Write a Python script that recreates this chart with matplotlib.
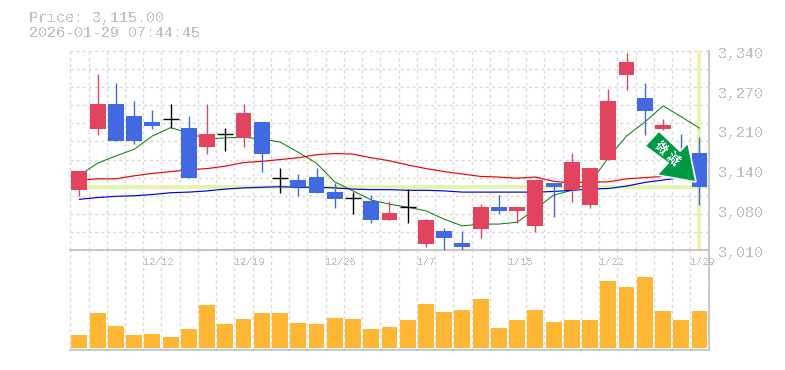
import matplotlib
matplotlib.use('Agg')
import matplotlib.pyplot as plt
import numpy as np
from matplotlib.patches import Polygon

W, H = 785, 370

plt.rcParams['text.antialiased'] = False

# precos (um candle por pregao)
opens = [3109, 3211, 3252, 3232, 3222, 3227, 3212, 3181, 3202, 3196, 3222, 3130, 3126, 3131, 3106, 3096, 3091, 3060, 3081, 3020, 3042, 3022, 3045, 3081, 3075, 3050, 3121, 3109, 3085, 3159, 3300, 3262, 3211, 3168, 3171]
closes = [3141, 3252, 3191, 3191, 3216, 3227, 3130, 3202, 3202, 3237, 3169, 3130, 3114, 3105, 3095, 3096, 3060, 3071, 3081, 3060, 3030, 3015, 3081, 3075, 3081, 3126, 3115, 3156, 3146, 3257, 3322, 3240, 3217, 3134, 3115]
highs = [3141, 3302, 3287, 3257, 3242, 3252, 3232, 3252, 3212, 3252, 3222, 3146, 3136, 3146, 3121, 3106, 3101, 3091, 3111, 3061, 3046, 3042, 3086, 3101, 3081, 3126, 3121, 3171, 3146, 3277, 3337, 3287, 3227, 3202, 3197]
lows = [3100, 3201, 3191, 3186, 3211, 3212, 3130, 3169, 3174, 3181, 3139, 3105, 3100, 3105, 3080, 3070, 3055, 3060, 3055, 3015, 3008, 3009, 3030, 3070, 3055, 3040, 3065, 3090, 3080, 3159, 3275, 3201, 3209, 3130, 3085]

ma_green = [3134, 3154, 3166, 3177, 3199, 3213, 3204, 3194, 3196, 3197, 3194, 3189, 3172, 3154, 3123, 3108, 3093, 3086, 3081, 3075, 3061, 3050, 3053, 3053, 3056, 3078, 3101, 3109, 3121, 3163, 3199, 3222, 3249, 3231, 3212]
ma_red = [3126, 3128, 3128, 3133, 3137, 3140, 3143, 3145, 3149, 3155, 3157, 3160, 3163, 3168, 3170, 3169, 3163, 3158, 3151, 3145, 3140, 3136, 3132, 3131, 3129, 3131, 3124, 3121, 3123, 3123, 3128, 3130, 3132, 3133, 3134]
ma_blue = [3094, 3097, 3099, 3100, 3102, 3105, 3106, 3108, 3111, 3113, 3114, 3115, 3114, 3114, 3113, 3111, 3110, 3110, 3109, 3109, 3108, 3106, 3106, 3106, 3106, 3106, 3107, 3109, 3111, 3112, 3116, 3122, 3126, 3130, 3133]

volumes = [13, 35, 22, 13, 14, 11, 19, 43, 24, 29, 35, 35, 25, 24, 30, 29, 19, 21, 28, 44, 36, 38, 49, 20, 28, 38, 26, 28, 28, 67, 61, 71, 37, 28, 37]

date_pos = [4, 9, 14, 19, 24, 29, 34]
date_labels = ['12/12', '12/19', '12/26', '1/7', '1/15', '1/22', '1/29']
price_labels = ['3,010', '3,080', '3,140', '3,210', '3,270', '3,340']
last_price = 3115

RED = '#e2445f'
BLUE = '#4169e1'
ORANGE = '#ffb733'
LIME = '#e3f5a9'
GRAY = '#c0c0c0'
GRID = '#d9d9d9'
MONO = 'Liberation Mono'


def px(x, y):
    return x / W, 1 - y / H


fig = plt.figure(figsize=(W / 100, H / 100), dpi=100)
left, right = 70.3, 708.6
ax = fig.add_axes([left / W, 1 - 250 / H, (right - left) / W, 199 / H])
ax2 = fig.add_axes([left / W, 1 - 350 / H, (right - left) / W, 100 / H])
ax.set_zorder(2)

n = len(opens)
xs = np.arange(n)
edges = np.arange(n + 1) - 0.5

for a in (ax, ax2):
    a.set_xlim(-0.5, n - 0.5)
    a.set_xticks(edges)
    a.set_xticklabels([])
    a.tick_params(length=0)
    a.grid(axis='x', color=GRID, lw=1.0, linestyle=(0, (2.2, 2.2)), zorder=0)
    a.set_axisbelow(True)
    for s in ('left', 'top'):
        a.spines[s].set_visible(False)
    for s in ('right', 'bottom'):
        a.spines[s].set_color(GRAY)
        a.spines[s].set_linewidth(1.2)
    for l in a.get_xgridlines():
        l.set_clip_on(False)

ax.set_ylim(3010, 3340)
ax.set_yticks(np.arange(3010, 3341, 30))
ax.set_yticklabels([])
ax.grid(axis='y', color=GRID, lw=1.0, linestyle=(0, (2.2, 2.2)), zorder=0)
for l in ax.get_ygridlines():
    l.set_clip_on(False)

# linhas de referencia do ultimo preco
ax.axhline(last_price, color=LIME, lw=2.8, zorder=1)
ax.axvline(n - 1, ymin=0.01, color=LIME, lw=2.6, zorder=1)

ax.plot(xs, ma_green, color='#007a00', lw=0.7, zorder=2)
ax.plot(xs, ma_red, color='#f00000', lw=0.85, zorder=2)
ax.plot(xs, ma_blue, color='#0000e6', lw=0.85, zorder=2)

for i in xs:
    if opens[i] == closes[i]:
        c = 'black'
    elif closes[i] > opens[i]:
        c = RED
    else:
        c = BLUE
    ax.vlines(i, lows[i], highs[i], color=c, lw=1.0, zorder=3)
    if c == 'black':
        ax.hlines(opens[i], i - 0.44, i + 0.44, color=c, lw=1.0, zorder=3)
    else:
        ax.bar(i, abs(closes[i] - opens[i]), bottom=min(opens[i], closes[i]), width=0.87, color=c, zorder=3)

for i, lab in enumerate(price_labels):
    v = np.linspace(3010, 3340, len(price_labels))[i]
    ax.annotate(lab, xy=(1, v), xycoords=('axes fraction', 'data'), xytext=(6.5, -2),
                textcoords='offset points', va='center', ha='left', family=MONO,
                fontsize=10.8, color=GRAY, annotation_clip=False)

for p, lab in zip(date_pos, date_labels):
    ax.annotate(lab, xy=(p - 0.5, 3010), xycoords='data', xytext=(0, -8.5),
                textcoords='offset points', va='center', ha='left', family=MONO,
                fontsize=7.3, color=GRAY, annotation_clip=False, zorder=6)

ax2.set_ylim(-2, 98)
ax2.set_yticks([])
ax2.bar(xs, volumes, width=0.87, color=ORANGE, zorder=3)

fig.text(*px(29, 18), 'Price: 3,115.00', family=MONO, fontsize=10.8, color=GRAY, va='center')
fig.text(*px(29, 33), '2026-01-29 07:44:45', family=MONO, fontsize=10.8, color=GRAY, va='center')

# seta de tendencia
arrow_px = [(659, 131), (680, 151), (688, 143), (696, 182), (657, 175), (668, 163), (645, 146)]
fig.add_artist(Polygon([px(*p) for p in arrow_px], closed=True, transform=fig.transFigure,
                       facecolor='#009944', edgecolor='white', lw=1.2, zorder=5))
for ch, pos in zip('微減', [(660, 148), (672, 159)]):
    fig.text(*px(*pos), ch, family=['Noto Sans CJK JP', 'DejaVu Sans'], fontsize=9, weight='bold',
             color='white', rotation=-45, rotation_mode='anchor', ha='center', va='center', zorder=6)

fig.savefig('out.png', dpi=100)
